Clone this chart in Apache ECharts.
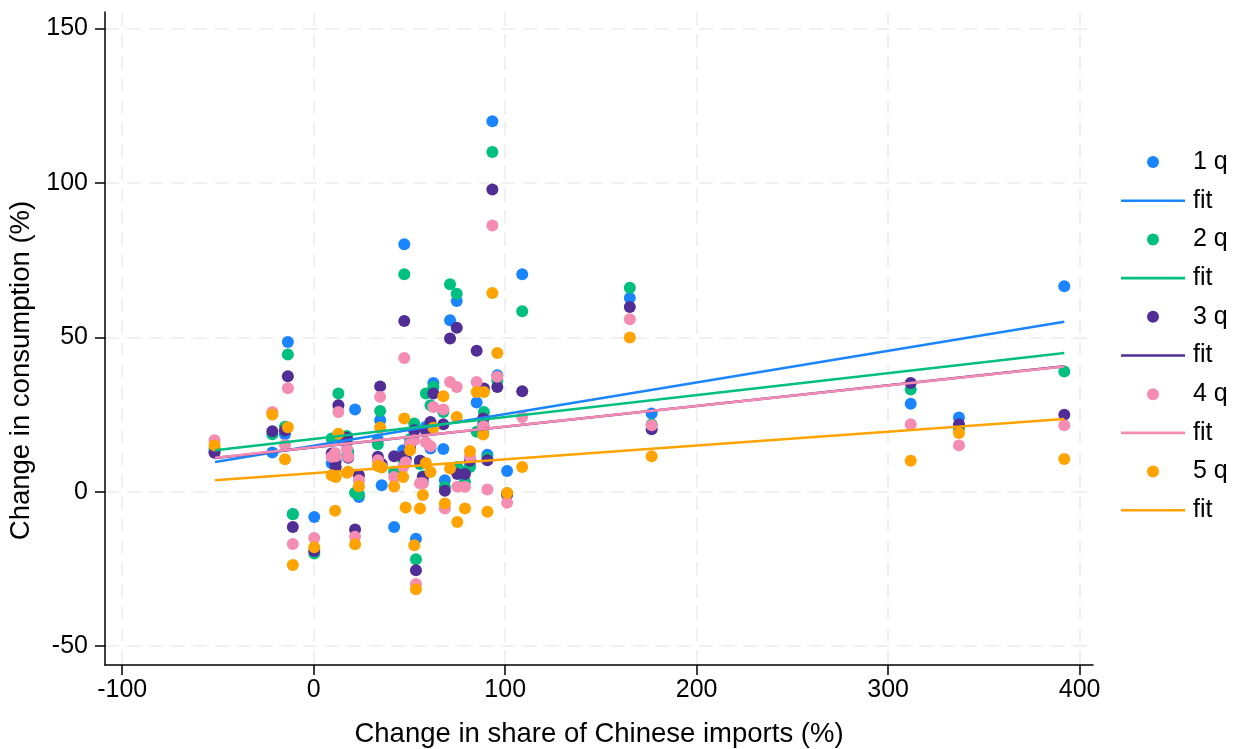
<!DOCTYPE html>
<html><head><meta charset="utf-8">
<script src="https://cdn.jsdelivr.net/npm/echarts@6/dist/echarts.min.js"></script>
<style>html,body{margin:0;padding:0;background:#fff}#c{width:1239px;height:749px}</style>
</head><body><div id="c"></div>
<script>
// x value of each product group (change in share of Chinese imports, %)
const groupX = [-51.8,-21.6,-13.5,-15.0,-10.9,0.3,12.9,9.4,11.5,11.2,17.3,18.0,21.6,23.6,34.7,33.5,35.5,42.0,47.3,46.7,48.0,53.4,52.5,50.3,55.5,57.0,58.6,62.5,61.0,67.7,68.5,71.2,74.7,75.0,81.6,79.0,85.1,88.9,88.5,90.7,93.3,95.9,101.0,108.9,165.1,176.5,311.8,337.0,392.0];
const q1 = [13.0,12.7,48.5,18.6,-7.2,-8.2,17.5,9.2,10.0,11.0,16.0,12.0,26.6,-1.7,23.1,16.9,2.1,-11.4,80.1,13.4,12.5,-15.2,20.0,15.5,10.0,3.7,21.0,35.2,14.0,13.8,3.7,55.5,61.7,7.0,8.5,6.5,28.9,24.0,22.0,12.0,119.9,37.7,6.7,70.4,62.7,25.3,28.5,24.0,66.5];
const q2 = [14.0,18.6,44.4,21.0,-7.3,-20.0,31.8,17.2,12.0,10.5,18.0,13.0,-0.3,-0.8,26.1,15.4,8.0,6.5,70.4,10.5,11.0,-21.9,22.1,17.0,9.0,5.0,31.8,33.9,28.0,25.8,1.5,67.2,64.1,8.0,8.0,3.2,19.4,25.8,19.0,11.0,110.0,36.0,-0.5,58.4,66.0,21.8,33.1,20.4,38.9];
const q3 = [12.6,19.6,37.4,19.8,-11.4,-19.2,28.0,12.4,8.0,9.5,17.5,11.0,-12.2,5.3,34.1,11.3,9.0,11.5,55.3,11.5,10.5,-25.4,19.9,14.5,10.0,4.8,19.9,31.8,22.6,21.8,0.3,49.6,53.1,5.7,10.0,5.7,45.6,33.4,23.7,10.2,97.8,33.9,-1.0,32.5,59.8,20.2,35.2,21.8,24.9];
const q4 = [16.7,25.8,33.5,15.1,-16.9,-15.0,25.8,11.3,11.5,12.5,14.0,11.3,-14.6,3.7,30.7,10.2,8.0,4.8,43.3,8.0,9.5,-29.9,16.7,15.5,2.7,2.7,16.0,27.4,14.7,26.6,-5.4,35.5,33.9,1.6,11.3,1.6,35.5,21.2,21.0,0.7,86.2,37.2,-3.6,24.2,55.8,21.5,21.8,15.0,21.5];
const q5 = [15.0,25.0,20.9,10.5,-23.7,-18.0,18.8,5.3,4.8,-6.2,6.1,6.5,-17.0,1.8,20.8,8.3,7.8,1.7,23.7,4.8,-5.1,-31.6,-17.3,13.4,-5.4,-1.1,9.3,20.7,6.4,30.9,-3.8,7.5,24.2,-9.8,13.1,-5.4,32.3,32.3,18.5,-6.5,64.3,44.9,-0.4,8.0,49.9,11.5,10.0,19.0,10.6];
// fitted lines: endpoints
const fitX = [-51.5, 392.0];
const fit1 = [9.6, 55.0];
const fit2 = [13.4, 44.9];
const fit3 = [10.9, 40.6];
const fit4 = [11.0, 40.5];
const fit5 = [3.7, 23.5];
const xTicks = [-100, 0, 100, 200, 300, 400];
const yTicks = [-50, 0, 50, 100, 150];
const seriesNames = ['1 q', '2 q', '3 q', '4 q', '5 q'];

const colors = ['#1a85ff', '#00bf7f', '#512d96', '#f58cb2', '#ffa300'];
const qs = [q1, q2, q3, q4, q5];
const fits = [fit1, fit2, fit3, fit4, fit5];
const FONT = 'Liberation Sans, Arial, Helvetica, sans-serif';
const FS = 25;
const TFS = 27.5;

const series = [];
const legendData = [];
for (let i = 0; i < 5; i++) {
  series.push({
    name: seriesNames[i], type: 'scatter',
    data: groupX.map((x, j) => [x, qs[i][j]]),
    symbolSize: 12, itemStyle: { color: colors[i], opacity: 1 },
    emphasis: { disabled: true }
  });
  series.push({
    name: 'fit' + (i + 1), type: 'line',
    data: fitX.map((x, j) => [x, fits[i][j]]),
    symbol: 'none', lineStyle: { width: 2.5, color: colors[i] },
    itemStyle: { color: colors[i] }, emphasis: { disabled: true }
  });
  legendData.push({ name: seriesNames[i], icon: 'circle' });
  legendData.push({ name: 'fit' + (i + 1), icon: 'path://M0,0 L64,0 L64,2.6 L0,2.6 Z' });
}

const gridLine = { show: true, lineStyle: { color: '#ebebeb', width: 1.5, type: [14, 8] } };
const chart = echarts.init(document.getElementById('c'), null, { renderer: 'canvas' });
chart.setOption({
  animation: false,
  backgroundColor: '#fff',
  textStyle: { fontFamily: FONT },
  grid: { left: 105, right: 146, top: 12, bottom: 84, containLabel: false, outerBoundsMode: 'none' },
  xAxis: {
    type: 'value', min: -109, max: 407,
    name: 'Change in share of Chinese imports (%)', nameLocation: 'middle', nameGap: 55,
    nameTextStyle: { fontSize: TFS, color: '#000', fontFamily: FONT },
    axisLine: { show: true, onZero: false, lineStyle: { color: '#000', width: 1.5 } },
    axisTick: { show: true, length: 10, customValues: xTicks, lineStyle: { color: '#000', width: 1.5 } },
    axisLabel: { customValues: xTicks, fontSize: FS, color: '#000', margin: 13, fontFamily: FONT },
    splitLine: gridLine
  },
  yAxis: {
    type: 'value', min: -56.1, max: 155.3,
    name: 'Change in consumption (%)', nameLocation: 'middle', nameGap: 70,
    nameTextStyle: { fontSize: TFS, color: '#000', fontFamily: FONT, padding: [0, 64, 0, 0] },
    axisLine: { show: true, onZero: false, lineStyle: { color: '#000', width: 1.5 } },
    axisTick: { show: true, length: 10, customValues: yTicks, lineStyle: { color: '#000', width: 1.5 } },
    axisLabel: { customValues: yTicks, fontSize: FS, color: '#000', margin: 17, fontFamily: FONT },
    splitLine: gridLine
  },
  legend: {
    orient: 'vertical', left: 1116, top: 142,
    itemWidth: 64, itemHeight: 12, itemGap: 8.7, symbolKeepAspect: true,
    data: legendData,
    formatter: n => (n.indexOf('fit') === 0 ? 'fit' : n),
    textStyle: { fontSize: FS, color: '#000', fontFamily: FONT, lineHeight: 30, padding: [0, 0, 0, 3] },
    selectedMode: false
  },
  series: series
});
</script></body></html>
